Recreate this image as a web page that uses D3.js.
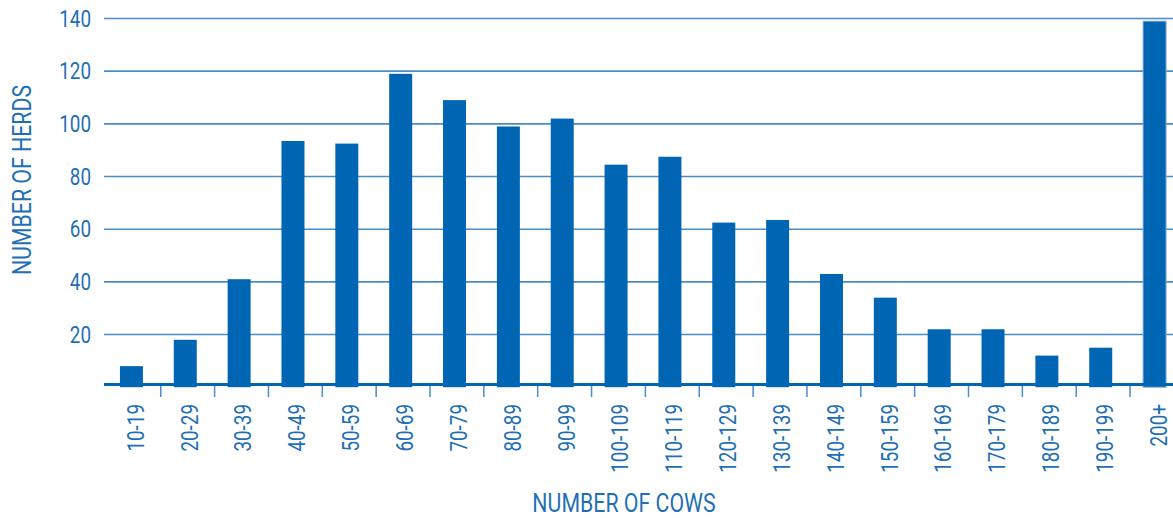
<!DOCTYPE html>
<html>
<head>
<meta charset="utf-8">
<script src="https://cdn.jsdelivr.net/npm/d3@7"></script>
<style>
  body { margin: 0; background: #fff; }
  svg { display: block; font-family: Roboto, "Liberation Sans", sans-serif; }
</style>
</head>
<body>
<div id="chart"></div>
<script>
const categories = ['10-19', '20-29', '30-39', '40-49', '50-59', '60-69', '70-79', '80-89', '90-99', '100-109',
  '110-119', '120-129', '130-139', '140-149', '150-159', '160-169', '170-179', '180-189', '190-199', '200+']
const herds = [8, 18, 41, 93.5, 92.5, 119, 109, 99, 102, 84.5, 87.5, 62.5, 63.5, 43, 34, 22, 22, 12, 15, 139]
const yTicks = [20, 40, 60, 80, 100, 120, 140]

const width = 1173
const height = 518
const plotLeft = 104
const blue = '#0066b3'
const textBlue = '#1f6fb6'
// condensed look: squeeze text horizontally
const squeeze = 0.82

const svg = d3.select('#chart')
  .append('svg')
  .attr('width', width)
  .attr('height', height)

const x = d3.scaleBand()
  .domain(categories)
  .range([104.5, 1181.5])
  .paddingInner(0.573)
  .paddingOuter(0.2865)

const y = d3.scaleLinear()
  .domain([0, 140])
  .range([387.2, 18.5])

// gridlines + y labels
svg.append('g')
  .selectAll('line')
  .data(yTicks)
  .enter()
  .append('line')
  .attr('x1', plotLeft)
  .attr('x2', width)
  .attr('y1', d => y(d))
  .attr('y2', d => y(d))
  .attr('stroke', '#4a8cc8')
  .attr('stroke-width', 1.6)

svg.append('g')
  .selectAll('text')
  .data(yTicks)
  .enter()
  .append('text')
  .attr('transform', d => `translate(91, ${y(d)}) scale(${squeeze}, 1)`)
  .attr('dy', '0.36em')
  .attr('text-anchor', 'end')
  .attr('font-size', 23)
  .attr('fill', textBlue)
  .text(d => d)

// bars
svg.append('g')
  .selectAll('rect')
  .data(herds)
  .enter()
  .append('rect')
  .attr('x', (d, i) => x(categories[i]))
  .attr('y', d => y(d))
  .attr('width', x.bandwidth())
  .attr('height', d => y(0) - y(d))
  .attr('fill', blue)
  .attr('stroke', (d, i) => i === categories.length - 1 ? '#86acd4' : 'none')
  .attr('stroke-width', 1)

// axis line
svg.append('line')
  .attr('x1', plotLeft)
  .attr('x2', width)
  .attr('y1', 384.5)
  .attr('y2', 384.5)
  .attr('stroke', blue)
  .attr('stroke-width', 3)

// ticks between categories
svg.append('g')
  .selectAll('line')
  .data(categories.slice(0, -1))
  .enter()
  .append('line')
  .attr('x1', d => x(d) + x.bandwidth() / 2 + x.step() / 2 + 2.4)
  .attr('x2', d => x(d) + x.bandwidth() / 2 + x.step() / 2 + 2.4)
  .attr('y1', 386)
  .attr('y2', 397)
  .attr('stroke', '#4a8cc8')
  .attr('stroke-width', 1.5)

// category labels
svg.append('g')
  .selectAll('text')
  .data(categories)
  .enter()
  .append('text')
  .attr('transform', d => `translate(${x(d) + x.bandwidth() / 2 + 4}, 404) rotate(-90) scale(${squeeze}, 1)`)
  .attr('text-anchor', 'end')
  .attr('dy', '0.36em')
  .attr('font-size', 23)
  .attr('fill', textBlue)
  .text(d => d)

// axis titles
svg.append('text')
  .attr('transform', `translate(624, 512) scale(${squeeze}, 1)`)
  .attr('text-anchor', 'middle')
  .attr('font-size', 26)
  .attr('fill', textBlue)
  .text('NUMBER OF COWS')

svg.append('text')
  .attr('transform', `translate(22, 180) rotate(-90) scale(${squeeze}, 1)`)
  .attr('text-anchor', 'middle')
  .attr('dy', '0.36em')
  .attr('font-size', 26)
  .attr('fill', textBlue)
  .text('NUMBER OF HERDS')
</script>
</body>
</html>
